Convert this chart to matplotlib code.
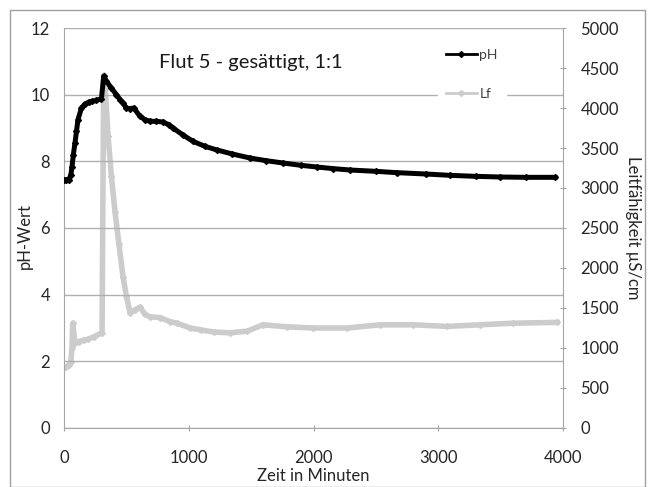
import matplotlib
matplotlib.use("Agg")
import matplotlib.pyplot as plt
from matplotlib.lines import Line2D
from matplotlib.patches import Rectangle

plt.rcParams['font.family'] = ['Lato', 'DejaVu Sans']

# pH series (time in minutes, pH)
ph_t = [0, 20, 40, 55, 64, 75, 88, 100, 112, 140, 168, 200, 224, 260, 300, 318,
        340, 380, 420, 450, 473, 500, 529, 560, 609, 650, 689, 740, 794, 840, 874,
        950, 1034, 1130, 1226, 1350, 1491, 1620, 1756, 1900, 2028, 2160, 2293, 2500,
        2669, 2900, 3094, 3300, 3495, 3700, 3936]
ph_v = [7.44, 7.44, 7.45, 7.6, 7.83, 8.2, 8.55, 8.9, 9.25, 9.6, 9.72, 9.78, 9.8, 9.83, 9.88, 10.55,
        10.4, 10.2, 10.0, 9.85, 9.75, 9.6, 9.58, 9.6, 9.35, 9.25, 9.2, 9.2, 9.18, 9.1, 9.0,
        8.8, 8.6, 8.45, 8.34, 8.22, 8.1, 8.02, 7.95, 7.88, 7.83, 7.78, 7.74, 7.7,
        7.66, 7.62, 7.58, 7.55, 7.53, 7.52, 7.52]

# Conductivity series (time in minutes, µS/cm)
lf_t = [0, 20, 40, 55, 64, 70, 88, 120, 160, 192, 240, 305, 318, 329, 353, 380, 409,
        440, 473, 500, 529, 570, 609, 650, 689, 770, 850, 906, 1010, 1100, 1200, 1331,
        1467, 1595, 1788, 1996, 2269, 2533, 2798, 3070, 3335, 3600, 3952]
lf_v = [760, 760, 790, 830, 1000, 1310, 1060, 1080, 1100, 1110, 1140, 1190, 4410, 4300, 3650, 3150, 2700,
        2300, 1890, 1650, 1440, 1480, 1510, 1420, 1390, 1380, 1330, 1310, 1250, 1225, 1200, 1190,
        1210, 1290, 1265, 1250, 1250, 1290, 1290, 1270, 1290, 1310, 1320]

fig = plt.figure(figsize=(6.52, 4.87), dpi=100)
ax = fig.add_axes([64/652, 59/487, 499/652, 400/487])
ax2 = ax.twinx()

ax2.plot(lf_t, lf_v, color='#cccccc', lw=4, marker='D', ms=3, label='Lf', zorder=2)
ax.plot(ph_t, ph_v, color='black', lw=3.6, marker='D', ms=3, label='pH', zorder=3)

ax.set_zorder(ax2.get_zorder() + 1)
ax.patch.set_visible(False)

ax.set_xlim(0, 4000)
ax.set_ylim(0, 12)
ax2.set_ylim(0, 5000)
ax.set_xticks([0, 1000, 2000, 3000, 4000])
ax.set_yticks([0, 2, 4, 6, 8, 10, 12])
ax2.set_yticks(range(0, 5001, 500))

for a in (ax, ax2):
    for s in a.spines.values():
        s.set_visible(False)
ax.spines['left'].set_visible(True)
ax.spines['left'].set_color('#a6a6a6')
ax.spines['bottom'].set_visible(True)
ax.spines['bottom'].set_color('#a6a6a6')
ax2.spines['right'].set_visible(True)
ax2.spines['right'].set_color('#a6a6a6')

ax.yaxis.grid(True, color='#b0b0b0', lw=1)
ax.set_axisbelow(True)

ax.tick_params(axis='y', length=0, labelsize=12, pad=10, colors='#262626')
ax.tick_params(axis='x', length=4, direction='inout', color='#a6a6a6', labelsize=12, labelcolor='#262626', pad=14)
ax2.tick_params(axis='y', length=5, direction='inout', color='#a6a6a6', labelsize=12, labelcolor='#262626', pad=10)

ax.set_xlabel('Zeit in Minuten', fontsize=12, color='#262626', labelpad=1)
ax.set_ylabel('pH-Wert', fontsize=12, color='#262626')
ax.yaxis.set_label_coords(-0.062, 0.48)
ax2.set_ylabel('Leitfähigkeit µS/cm', fontsize=12, color='#262626', rotation=270, labelpad=16)

ax.text(0.19, 0.9, 'Flut 5 - gesättigt, 1:1', transform=ax.transAxes, fontsize=14.5, color='#1a1a1a')

handles = [Line2D([], [], color='black', lw=2, marker='D', ms=3),
           Line2D([], [], color='#cccccc', lw=2, marker='D', ms=3)]
leg = ax.legend(handles, ['pH', 'Lf'], loc='upper left', bbox_to_anchor=(0.735, 0.985),
                frameon=True, fontsize=10, handlelength=2.2, handletextpad=0.2,
                labelspacing=1.9, borderpad=0.6, edgecolor='white', framealpha=1, fancybox=False)
for t in leg.get_texts():
    t.set_color('#404040')

fig.patches.append(Rectangle((10/652, 0), 635/652, 477/487, transform=fig.transFigure,
                             fill=False, edgecolor='#a0a0a0', lw=1))

fig.savefig('out.png', dpi=100)
